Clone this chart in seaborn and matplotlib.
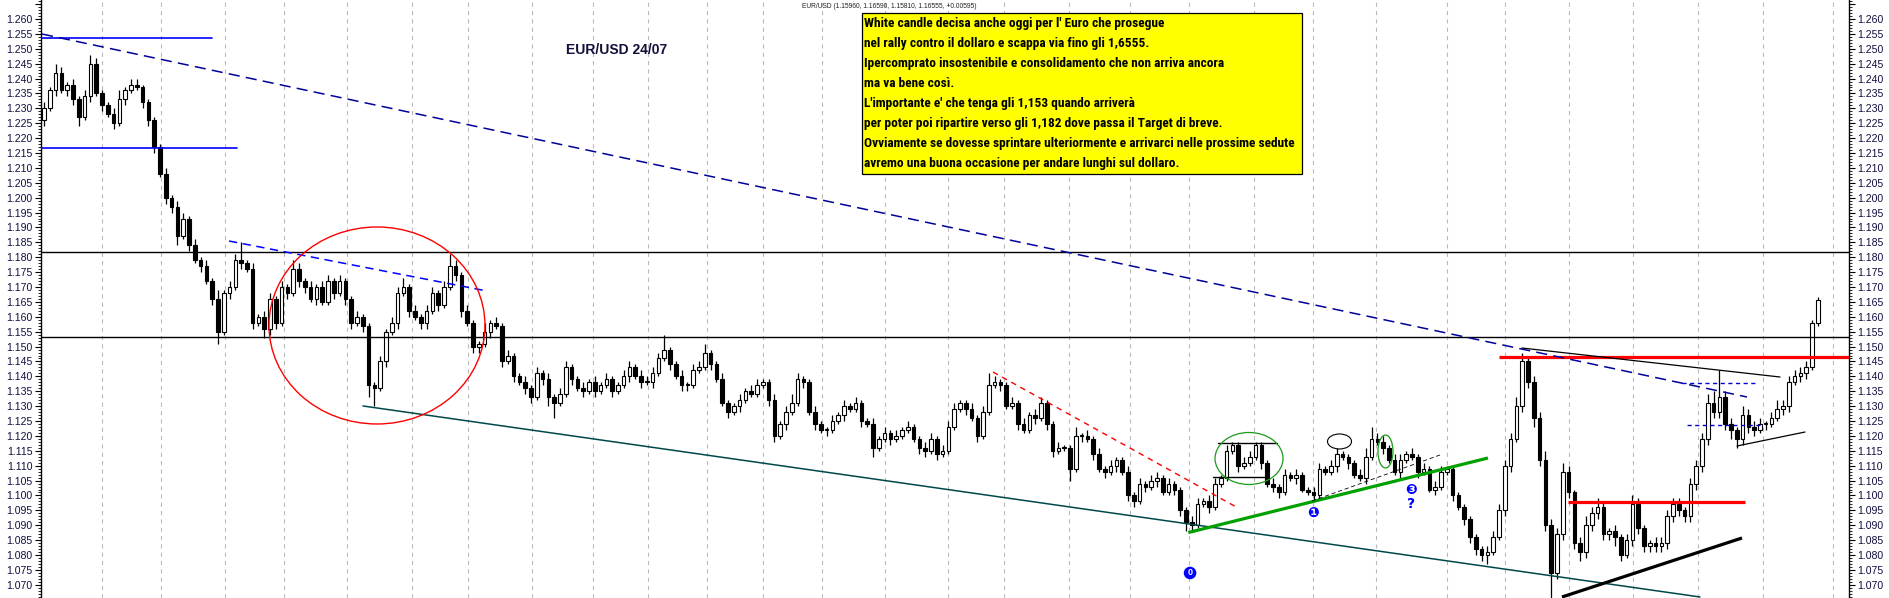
import numpy as np
import pandas as pd
import matplotlib
matplotlib.use("Agg")
import matplotlib.pyplot as plt
import seaborn as sns
from matplotlib import font_manager
from matplotlib.font_manager import FontProperties
from matplotlib.patches import Ellipse, Rectangle
from matplotlib.ticker import MultipleLocator, FuncFormatter

# ---------------- data ----------------
first_open = 1.226
closes = [
    # segment A
    1.230, 1.236, 1.242, 1.236, 1.238, 1.233, 1.227, 1.234, 1.245, 1.235,
    1.231, 1.228, 1.225, 1.233, 1.236, 1.238, 1.237, 1.232, 1.226,
    # segment B
    1.217, 1.208, 1.200, 1.197, 1.187, 1.193, 1.184, 1.179, 1.177, 1.172,
    1.166, 1.155, 1.168, 1.170, 1.179, 1.178, 1.176, 1.158, 1.160, 1.156,
    1.166, 1.158, 1.170, 1.168, 1.176, 1.172, 1.170, 1.166, 1.170, 1.165,
    1.172, 1.168, 1.172, 1.166,
    # segment C
    1.158, 1.160, 1.157, 1.137, 1.136, 1.145, 1.155, 1.158, 1.168, 1.170,
    1.162, 1.160, 1.158, 1.162, 1.168, 1.164, 1.170, 1.177, 1.174, 1.162,
    1.158, 1.150, 1.151, 1.155, 1.158, 1.157, 1.145, 1.147, 1.140, 1.138,
    1.136, 1.133, 1.141, 1.139, 1.133, 1.131, 1.134, 1.143, 1.139, 1.136,
    1.135, 1.138, 1.135, 1.137, 1.139, 1.135, 1.137, 1.140, 1.143, 1.140,
    1.138,
    # segment D
    1.138, 1.141, 1.146, 1.149, 1.144, 1.140, 1.137, 1.137, 1.142, 1.143,
    1.148, 1.144, 1.139, 1.131, 1.128, 1.130, 1.132, 1.135, 1.134, 1.137,
    1.138, 1.132, 1.120, 1.124, 1.128, 1.131, 1.139, 1.138, 1.128, 1.124,
    1.122, 1.122, 1.125, 1.127, 1.130, 1.129, 1.131, 1.125, 1.124, 1.116,
    1.119, 1.121, 1.119, 1.120, 1.122, 1.123, 1.119, 1.116, 1.115, 1.119,
    # segment E
    1.114, 1.115, 1.123, 1.129, 1.131, 1.129, 1.126, 1.120, 1.128, 1.137,
    1.138, 1.137, 1.130, 1.131, 1.124, 1.122, 1.127, 1.126, 1.131, 1.124,
    1.115, 1.116, 1.116, 1.109, 1.120, 1.120, 1.119, 1.114, 1.109, 1.108,
    1.110, 1.112, 1.108, 1.100, 1.098, 1.104, 1.103, 1.105, 1.106, 1.101,
    1.104, 1.102, 1.095, 1.091, 1.090, 1.097, 1.098, 1.096, 1.104, 1.106,
    1.115, 1.117,
    # segment F
    1.110, 1.111, 1.113, 1.117, 1.111, 1.104, 1.103, 1.101, 1.107, 1.106,
    1.107, 1.102, 1.101, 1.100, 1.109, 1.108, 1.110, 1.114, 1.113, 1.111,
    1.107, 1.106, 1.113, 1.119, 1.118, 1.116, 1.112, 1.108, 1.112, 1.114,
    1.113, 1.108, 1.109, 1.102, 1.103, 1.108, 1.109, 1.100, 1.096, 1.092,
    1.086, 1.082, 1.080, 1.081, 1.086, 1.095, 1.110, 1.119, 1.130, 1.145,
    1.138, 1.126,
    # segment G
    1.112, 1.090, 1.074, 1.087, 1.108, 1.101, 1.084, 1.081, 1.090, 1.094,
    1.096, 1.087, 1.088, 1.086, 1.080, 1.085, 1.097, 1.089, 1.083, 1.084,
    1.083, 1.084, 1.093, 1.097, 1.095, 1.093, 1.104, 1.110, 1.119, 1.131,
    1.128, 1.133, 1.124, 1.122, 1.119, 1.127, 1.123, 1.122, 1.124, 1.124,
    1.126, 1.129, 1.130, 1.138, 1.140, 1.141, 1.143, 1.158, 1.1655,
]
# wick lengths in thousandths
upper_wick = [
    2, 1, 3, 2, 1, 2, 1, 2, 3, 2, 1, 1, 2, 3, 1, 2, 2, 1, 1,
    1, 1, 2, 1, 2, 2, 1, 2, 1, 2, 1, 3, 1, 2, 2, 6, 1, 2, 1, 2, 2, 1, 2, 1, 3, 2, 1, 2, 1, 2, 2, 1, 2, 1,
    1, 2, 1, 1, 1, 2, 1, 2, 2, 3, 1, 2, 1, 2, 2, 1, 2, 4, 2, 1, 2, 1, 1, 3, 1, 2, 1, 2, 1, 1, 2, 1, 2, 1, 2,
    1, 2, 2, 1, 1, 2, 1, 2, 1, 2, 1, 1, 2, 2, 1, 2,
    2, 2, 2, 5, 1, 1, 2, 1, 2, 2, 3, 1, 1, 2, 1, 1, 2, 1, 2, 2, 1, 1, 2, 1, 2, 3, 2, 1, 1, 2, 1, 1, 2, 1, 2,
    1, 2, 1, 1, 2, 1, 2, 1, 2, 1, 2, 1, 1, 2, 2,
    1, 2, 2, 2, 1, 1, 2, 1, 2, 4, 2, 1, 1, 2, 1, 2, 1, 2, 2, 1, 1, 2, 1, 1, 3, 1, 2, 1, 2, 1, 2, 1, 1, 2, 1,
    2, 1, 2, 2, 1, 2, 1, 1, 1, 2, 2, 1, 2, 2, 1, 2, 1,
    1, 2, 2, 1, 1, 1, 2, 1, 2, 1, 2, 1, 1, 2, 2, 1, 2, 2, 1, 1, 1, 2, 3, 4, 2, 2, 1, 2, 2, 1, 2, 1, 2, 1, 2,
    2, 1, 1, 1, 1, 1, 1, 1, 2, 2, 2, 2, 2, 3, 3, 1, 2,
    2, 3, 2, 2, 3, 2, 1, 2, 3, 2, 3, 2, 1, 2, 1, 2, 3, 2, 1, 1, 2, 2, 2, 2, 2, 1, 2, 2, 2, 3, 4, 9, 2, 2, 1,
    3, 2, 2, 2, 1, 2, 3, 2, 2, 2, 2, 2, 1, 1,
]
lower_wick = [
    2, 1, 2, 1, 2, 2, 3, 1, 2, 1, 2, 1, 2, 1, 2, 1, 1, 2, 2,
    2, 1, 2, 2, 3, 1, 2, 1, 2, 1, 2, 4, 1, 2, 1, 2, 1, 2, 1, 3, 2, 2, 1, 2, 1, 2, 2, 1, 2, 1, 1, 2, 1, 2,
    2, 1, 2, 4, 6, 1, 2, 1, 2, 1, 2, 1, 2, 2, 1, 2, 1, 1, 2, 2, 1, 2, 2, 1, 2, 1, 2, 1, 2, 1, 2, 2, 1, 2, 3,
    5, 1, 1, 2, 1, 2, 1, 2, 1, 1, 2, 1, 1, 2, 1, 2,
    1, 2, 1, 1, 2, 1, 2, 2, 1, 1, 1, 2, 1, 1, 2, 1, 2, 1, 1, 1, 1, 2, 2, 1, 2, 1, 1, 2, 1, 2, 1, 2, 1, 1, 2,
    1, 1, 2, 1, 3, 1, 1, 2, 1, 1, 1, 1, 2, 2, 1,
    2, 1, 1, 1, 1, 2, 1, 2, 1, 1, 1, 2, 1, 1, 2, 1, 1, 2, 1, 2, 2, 1, 1, 4, 1, 2, 1, 2, 1, 2, 1, 2, 1, 2, 2,
    1, 2, 1, 2, 1, 1, 2, 2, 3, 2, 1, 1, 2, 1, 1, 1, 1,
    2, 1, 1, 1, 2, 1, 2, 2, 1, 1, 2, 1, 1, 2, 1, 1, 1, 2, 1, 2, 1, 1, 2, 1, 1, 2, 1, 1, 2, 1, 1, 2, 1, 1, 2,
    1, 1, 2, 1, 2, 2, 2, 2, 3, 1, 1, 2, 2, 1, 2, 2, 3,
    2, 2, 9, 2, 2, 2, 2, 3, 2, 2, 2, 2, 2, 3, 2, 1, 2, 2, 2, 2, 2, 2, 2, 2, 2, 2, 2, 2, 2, 2, 2, 2, 2, 3, 3,
    2, 2, 2, 1, 2, 1, 1, 2, 2, 1, 2, 2, 1, 1,
]

# month separators (bar index)
month_breaks = [10.0, 20.18, 31.22, 41.4, 52.27, 63.48, 73.14, 84.18, 94.7, 104.19,
                114.37, 124.03, 134.21, 145.07, 155.94, 165.6, 176.82, 187.34, 197.52,
                208.73, 218.91, 229.77, 242.02, 252.03, 263.07, 274.11, 285.32, 296.53, 308.61]

# horizontal levels
black_levels = [1.1818, 1.1532]
red_level_high = 1.1466
red_level_high_start = 250.99
red_level_low = 1.0978
red_level_low_span = [262.9, 293.4]
blue_levels = [1.2535, 1.2167]
blue_levels_end = [28.98, 33.29]

# trend lines: (x0, x1), (y0, y1)
navy_trend = ([-0.35, 293.77], [1.25496, 1.13307])
blue_short_trend = ([31.91, 76.42], [1.18545, 1.16866])
teal_support = ([55.03, 285.66], [1.13005, 1.06591])
green_support = ([197.4, 249.09], [1.08755, 1.11258])
black_dashdot = ([218.73, 240.81], [1.09815, 1.11359])
red_dashed = ([163.70, 205.97], [1.14146, 1.09580])
black_top = ([254.96, 299.47], [1.14952, 1.13978])
black_lower = ([292.05, 303.78], [1.11661, 1.12131])
black_thick = ([261.86, 292.91], [1.06591, 1.08572])
blue_dash_levels = [1.13777, 1.12367]
blue_dash_spans = [[282.56, 295.5], [283.42, 296.0]]
box_levels = [1.11762, 1.10624]
box_spans = [[202.5, 212.7], [201.66, 210.97]]

# ellipses: center x, center y, width, height
red_circle = (57.44, 1.15708, 37.26, 0.06615)
green_ellipse_1 = (207.87, 1.11242, 11.73, 0.01746)
black_ellipse = (223.48, 1.11813, 4.14, 0.00504)
green_ellipse_2 = (231.41, 1.11477, 2.59, 0.01108)

# labels on the chart
count_labels = ["❶", "❸", "?"]
count_x = [218.9, 235.8, 235.8]
count_y = [1.09411, 1.10184, 1.09714]
zero_label = "0"
zero_xy = (197.7, 1.07397)

header = "EUR/USD (1.15960, 1.16590, 1.15810, 1.16555, +0.00595)"
title = "EUR/USD 24/07"
note_lines = [
    "White candle decisa anche oggi per l' Euro che prosegue",
    "nel rally contro il dollaro e scappa via fino gli 1,6555.",
    "Ipercomprato insostenibile e consolidamento che non arriva ancora",
    "ma va bene così.",
    "L'importante e' che tenga gli 1,153 quando arriverà",
    "per poter poi ripartire verso gli 1,182 dove passa il Target di breve.",
    "Ovviamente se dovesse sprintare ulteriormente e arrivarci nelle prossime sedute",
    "avremo una buona occasione per andare lunghi sul dollaro.",
]

# ---------------- build frame ----------------
n = len(closes)
opens = [first_open] + closes[:-1]
df = pd.DataFrame({"bar": np.arange(n), "open": opens, "close": closes,
                   "uw": upper_wick[:n], "lw": lower_wick[:n]})
df["high"] = df[["open", "close"]].max(axis=1) + df["uw"] / 1000.0
df["low"] = df[["open", "close"]].min(axis=1) - df["lw"] / 1000.0
df["bottom"] = df[["open", "close"]].min(axis=1)
df["height"] = (df["close"] - df["open"]).abs().clip(lower=0.0003)
df["up"] = df["close"] >= df["open"]

# ---------------- figure ----------------
sns.set_theme(style="white")
plt.rcParams["font.family"] = ["Liberation Sans", "DejaVu Sans"]
plt.rcParams["lines.scale_dashes"] = False


def pick_condensed_bold():
    fl = font_manager.fontManager.ttflist
    def isbold(f):
        w = f.weight
        return (w >= 600) if isinstance(w, int) else (str(w).lower() in ("bold", "heavy", "black", "semibold", "demibold"))
    prefs = [
        lambda f: f.name == "Liberation Sans Narrow" and isbold(f),
        lambda f: "Roboto Condensed" in f.name and isbold(f),
        lambda f: f.name == "Roboto" and "ondensed" in f.fname and isbold(f),
        lambda f: ("Narrow" in f.name or "Condensed" in f.name) and isbold(f),
        lambda f: f.name == "Open Sans" and "ondensed" in f.fname and isbold(f),
        lambda f: f.name == "DejaVu Sans" and "Condensed" in f.fname and isbold(f),
    ]
    for p in prefs:
        for f in fl:
            try:
                if p(f):
                    return FontProperties(fname=f.fname)
            except Exception:
                pass
    return FontProperties(family="Liberation Sans", weight="bold")


note_fp = pick_condensed_bold()

W, H = 1889, 598
fig = plt.figure(figsize=(W / 100, H / 100), dpi=100)
fig.patch.set_facecolor("white")
ax = fig.add_axes([41 / W, 0, 1808 / W, 1])
ax.set_facecolor("white")
ax.set_xlim(-0.5175, 311.37)
ax.set_ylim(1.06557, 1.26638)

# grid separators
for mb in month_breaks:
    ax.axvline(mb, color="#b9b9b9", lw=0.8, linestyle=(0, (3, 3)), zorder=0)

# candles
ax.vlines(df["bar"], df["low"], df["high"], color="black", lw=0.9, zorder=2)
up = df[df["up"]]
dn = df[~df["up"]]
ax.bar(up["bar"], up["height"], bottom=up["bottom"], width=0.62,
       facecolor="white", edgecolor="black", linewidth=0.8, zorder=3)
ax.bar(dn["bar"], dn["height"], bottom=dn["bottom"], width=0.62,
       facecolor="black", edgecolor="black", linewidth=0.8, zorder=3)

# horizontal levels
for lv in black_levels:
    ax.axhline(lv, color="black", lw=1.0, zorder=4)
ax.plot([red_level_high_start, 311.37], [red_level_high] * 2, color="#ff0000", lw=2.3, zorder=4,
        solid_capstyle="butt")
ax.plot(red_level_low_span, [red_level_low] * 2, color="#ff0000", lw=2.3, zorder=4,
        solid_capstyle="butt")
for lv, xe in zip(blue_levels, blue_levels_end):
    ax.plot([-0.5175, xe], [lv, lv], color="#0000ff", lw=1.2, zorder=4)

# trend lines
ax.plot(*navy_trend, color="#00009a", lw=1.1, linestyle=(0, (8, 4.5)), zorder=4)
ax.plot(*blue_short_trend, color="#0000ff", lw=1.1, linestyle=(0, (6, 4)), zorder=4)
ax.plot(*teal_support, color="#004848", lw=1.1, zorder=4)
ax.plot(*green_support, color="#00a000", lw=2.3, zorder=4, solid_capstyle="butt")
ax.plot(*black_dashdot, color="black", lw=0.6, linestyle=(0, (3, 2)), zorder=4)
ax.plot(*red_dashed, color="#ff0000", lw=1.0, linestyle=(0, (4, 3.5)), zorder=4)
ax.plot(*black_top, color="black", lw=0.9, zorder=4)
ax.plot(*black_lower, color="black", lw=0.9, zorder=4)
ax.plot(*black_thick, color="black", lw=2.3, zorder=4, solid_capstyle="butt")
for lv, sp in zip(blue_dash_levels, blue_dash_spans):
    ax.plot(sp, [lv, lv], color="#0000cc", lw=1.0, linestyle=(0, (3, 2.5)), zorder=4)
for lv, sp in zip(box_levels, box_spans):
    ax.plot(sp, [lv, lv], color="black", lw=1.0, zorder=4)

# ellipses
for (cx, cy, ew, eh), col, lw in [(red_circle, "#ff0000", 1.0),
                                  (green_ellipse_1, "#1a9a1a", 0.9),
                                  (black_ellipse, "black", 0.8),
                                  (green_ellipse_2, "#1a9a1a", 0.9)]:
    ax.add_patch(Ellipse((cx, cy), ew, eh, fill=False, edgecolor=col, lw=lw, zorder=5))

for lab, lx, ly in zip(count_labels, count_x, count_y):
    ax.text(lx, ly, lab, color="#0000ff", fontsize=10, fontweight="bold",
            ha="center", va="center", family=["DejaVu Sans"], zorder=6)
ax.text(zero_xy[0], zero_xy[1], zero_label, color="white", fontsize=6.5, fontweight="bold",
        ha="center", va="center", zorder=6,
        bbox=dict(boxstyle="circle,pad=0.12", facecolor="#0000ff", edgecolor="#0000ff"))

# axes styling
for s in ["top", "bottom"]:
    ax.spines[s].set_visible(False)
for s in ["left", "right"]:
    ax.spines[s].set_visible(True)
    ax.spines[s].set_color("black")
    ax.spines[s].set_linewidth(1.0)
ax.set_xticks([])
ax.yaxis.set_major_locator(MultipleLocator(0.005))
ax.yaxis.set_minor_locator(MultipleLocator(0.001))
ax.yaxis.set_major_formatter(FuncFormatter(lambda v, p: "" if v > 1.2625 else f"{v:.3f}"))
ax.tick_params(axis="y", which="both", direction="out", left=True, right=True,
               labelleft=True, labelright=True, colors="black", labelcolor="#101040",
               labelsize=7.6, pad=2)
ax.tick_params(axis="y", which="major", length=4.2, width=0.8)
ax.tick_params(axis="y", which="minor", length=2.2, width=0.6)
ax.grid(False)

# texts
fig.text(802 / W, 1 - 7 / H, header, fontsize=4.8, color="#202020", ha="left", va="center")
fig.text(617 / W, 1 - 50 / H, title, fontsize=10, fontweight="bold", color="#10103a",
         ha="center", va="center")

box = Rectangle((862 / W, 1 - 174 / H), 440 / W, 161.3 / H, transform=fig.transFigure,
                facecolor="#ffff00", edgecolor="black", lw=0.9, zorder=5)
fig.add_artist(box)

# fit the note font so that the longest line spans the box like in the reference
renderer = fig.canvas.get_renderer()
fp_probe = note_fp.copy()
fp_probe.set_size(10)
probe = fig.text(0, 0, note_lines[6], fontproperties=fp_probe)
probe_w = probe.get_window_extent(renderer).width
probe.remove()
note_size = min(12.0, 10 * 433.0 / probe_w)
fp_note = note_fp.copy()
fp_note.set_size(note_size)
for k, line in enumerate(note_lines):
    fig.text(864 / W, 1 - (23.5 + 20 * k) / H, line, fontproperties=fp_note,
             color="black", ha="left", va="center", zorder=6)

fig.savefig("out.png", dpi=100, facecolor="white")
